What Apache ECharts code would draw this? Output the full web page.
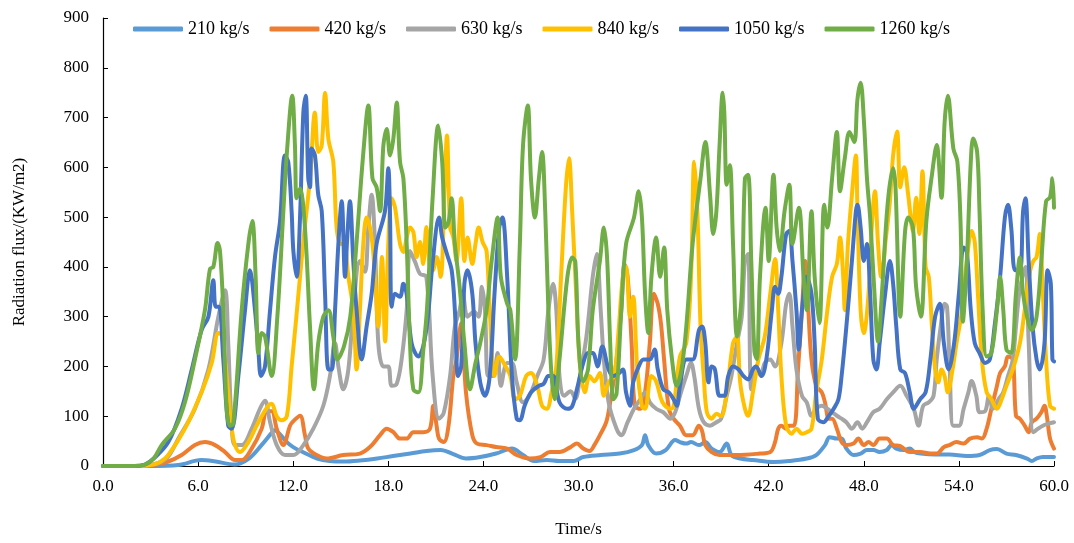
<!DOCTYPE html>
<html style="height: 100%;">
  <head>
    <meta charset="utf-8" />
  </head>
  <body style="height: 100%; margin: 0; background: #fff;">
    <div id="container" style="width: 1074px; height: 543px;"></div>
    <script src="https://cdn.jsdelivr.net/npm/echarts@6/dist/echarts.min.js"></script>
    <script type="text/javascript">
      // [time (s), radiation flux (KW/m2)]
      var names = ["210 kg/s", "420 kg/s", "630 kg/s", "840 kg/s", "1050 kg/s", "1260 kg/s"];
      var colors = ["#5B9BD5", "#ED7D31", "#A5A5A5", "#FFC000", "#4472C4", "#70AD47"];

      var s210 = [[0,0],[3,0],[4.75,2],[6.2,12],[7.1,9],[8.3,3],[9.2,15],[10,42],[10.6,65],[10.8,72],[11.1,66],[11.6,48],[12,38],[12.6,28],[13.5,15],[14.3,10],[15.2,9],[16.2,11],[17.3,15],[18.3,20],[19.4,25],[20.4,30],[21.3,32],[22.1,24],[22.9,15],[23.8,18],[24.8,25],[25.8,35],[26.5,22],[27.2,10],[28,12],[28.8,10],[29.7,10],[30.3,18],[31.4,22],[32.6,25],[33.5,32],[34,42],[34.2,62],[34.4,42],[34.9,25],[35.5,32],[36.1,52],[36.4,48],[36.8,45],[37.1,48],[37.6,42],[38,48],[38.4,35],[38.9,28],[39.35,45],[39.65,22],[40.2,15],[41,12],[42.3,8],[43.3,10],[44.4,15],[45,22],[45.55,42],[45.85,58],[46.3,55],[46.6,55],[46.9,35],[47.35,22],[47.8,25],[48.2,32],[48.6,32],[49,28],[49.45,32],[49.75,42],[50.05,35],[50.5,32],[50.9,35],[51.2,28],[51.6,25],[52.5,23],[53.4,23],[54.5,20],[55.3,22],[55.95,32],[56.4,34],[57,25],[57.6,22],[58.3,15],[58.6,10],[58.9,15],[59.3,18],[60,18]];

      var s420 = [[0,0],[2,0],[3,1],[4.12,9],[4.96,22],[5.8,42],[6.43,48],[7.07,42],[7.7,28],[8.33,12],[8.75,12],[9.38,35],[10.01,75],[10.33,110],[10.64,110],[10.96,75],[11.38,42],[11.8,81],[12.01,90],[12.43,101],[12.74,62],[12.95,35],[13.48,22],[14.11,15],[15.16,22],[16.21,25],[16.84,38],[17.48,62],[17.9,75],[18.32,68],[18.74,55],[19.16,55],[19.58,68],[20.21,68],[20.63,75],[20.84,121],[21.05,80],[21.2,55],[21.5,48],[21.8,81],[22.1,181],[22.3,214],[22.6,287],[22.9,148],[23.3,62],[23.6,45],[24.2,42],[24.8,38],[25.5,35],[26.1,22],[26.9,15],[27.6,18],[28.2,28],[28.8,28],[29.5,38],[29.9,45],[30.3,35],[30.7,30],[31,42],[31.35,62],[31.75,88],[32,128],[32.4,214],[32.7,313],[32.9,406],[33.1,380],[33.35,247],[33.55,121],[33.9,115],[34.2,148],[34.5,247],[34.75,346],[35,326],[35.2,287],[35.4,214],[35.7,115],[36,95],[36.4,81],[36.8,62],[37.2,62],[37.6,81],[37.8,70],[38,42],[38.4,28],[38.9,22],[40,22],[41.45,25],[42.1,28],[42.4,48],[42.6,75],[42.8,81],[43.1,75],[43.3,81],[43.6,81],[43.85,194],[44.1,313],[44.3,412],[44.5,313],[44.7,214],[45,161],[45.35,148],[45.55,128],[45.8,95],[46,95],[46.3,75],[46.6,48],[46.9,42],[47.35,45],[47.65,55],[48,42],[48.3,48],[48.6,42],[49,55],[49.45,55],[49.85,42],[50.3,40],[50.9,28],[51.55,28],[52.2,25],[52.6,25],[53.05,38],[53.4,42],[53.85,48],[54.3,45],[54.7,55],[55.15,58],[55.45,55],[55.75,75],[56.05,115],[56.4,161],[56.6,187],[56.9,200],[57.1,220],[57.4,214],[57.6,101],[57.85,95],[58.15,81],[58.4,68],[58.6,88],[58.9,95],[59.2,108],[59.4,121],[59.55,100],[59.75,55],[60,35]];

      var s630 = [[0,0],[2,0],[3,2],[4,15],[4.75,55],[5.8,115],[6.65,194],[7.28,300],[7.7,353],[7.9,247],[8.12,81],[8.33,42],[8.75,42],[9.38,75],[9.9,115],[10.22,131],[10.54,88],[10.96,42],[11.48,22],[12.01,22],[12.64,42],[13.27,75],[13.9,121],[14.32,181],[14.64,247],[14.85,200],[15.16,154],[15.48,194],[15.79,313],[16.21,412],[16.53,390],[16.74,479],[16.95,545],[17.16,446],[17.37,247],[17.69,200],[18,200],[18.21,161],[18.53,165],[18.84,214],[19.16,313],[19.37,432],[19.69,410],[20,386],[20.4,380],[20.8,181],[21.2,95],[21.5,107],[21.9,181],[22.2,280],[22.5,313],[22.7,346],[23,300],[23.4,310],[23.7,300],[23.9,360],[24.1,313],[24.3,181],[24.6,181],[24.9,227],[25.1,161],[25.5,207],[25.8,207],[26.1,168],[26.5,128],[26.9,141],[27.4,181],[27.8,214],[28.1,313],[28.4,366],[28.6,313],[28.8,181],[29.1,141],[29.5,150],[29.8,135],[30.1,181],[30.5,260],[30.9,380],[31.15,426],[31.4,313],[31.6,214],[31.9,128],[32.4,75],[32.7,62],[33.1,88],[33.5,115],[33.9,134],[34.2,148],[34.5,128],[34.9,115],[35.35,108],[35.8,95],[36.1,108],[36.4,141],[36.8,181],[37.1,207],[37.3,181],[37.6,115],[37.9,88],[38.3,81],[38.7,88],[39,95],[39.35,141],[39.65,181],[40,247],[40.3,300],[40.5,412],[40.7,426],[40.9,154],[41.2,200],[41.5,181],[41.75,207],[42.1,214],[42.4,200],[42.8,247],[43.1,326],[43.3,346],[43.5,280],[43.75,194],[44.1,141],[44.4,128],[44.7,101],[45,115],[45.35,121],[45.7,115],[46,108],[46.3,101],[46.6,95],[46.9,88],[47.25,75],[47.6,88],[47.9,75],[48.2,88],[48.6,108],[49,115],[49.45,134],[49.85,148],[50.3,161],[50.7,141],[51.15,115],[51.45,81],[51.75,121],[52.1,128],[52.4,141],[52.6,214],[52.85,280],[53.1,326],[53.25,320],[53.4,214],[53.65,81],[54,81],[54.3,115],[54.6,148],[54.8,171],[55.1,141],[55.3,108],[55.65,110],[55.9,141],[56.15,115],[56.5,134],[56.8,148],[57.1,181],[57.4,214],[57.6,280],[57.8,346],[58,380],[58.2,400],[58.4,250],[58.7,68],[59,75],[59.3,81],[59.65,85],[60,88]];

      var s840 = [[0,0],[2,0],[3,2],[3.6,8],[4.12,22],[5.17,75],[6.22,148],[6.86,207],[7.28,267],[7.49,262],[7.8,181],[8.12,75],[8.33,42],[8.64,28],[9.17,48],[9.8,88],[10.43,121],[10.64,125],[10.96,100],[11.27,92],[11.6,100],[11.9,200],[12.2,300],[12.43,380],[12.7,470],[13.06,578],[13.37,710],[13.58,631],[13.8,644],[14.01,750],[14.22,657],[14.53,611],[14.74,479],[15,446],[15.2,446],[15.48,380],[15.79,313],[16,194],[16.21,313],[16.42,446],[16.63,499],[16.95,459],[17.16,380],[17.37,280],[17.6,420],[17.8,250],[18,446],[18.21,538],[18.42,520],[18.74,446],[18.95,430],[19.16,459],[19.37,479],[19.58,470],[19.79,420],[20,450],[20.2,406],[20.4,480],[20.6,406],[20.8,393],[21.05,420],[21.3,380],[21.55,560],[21.7,664],[21.9,479],[22.1,460],[22.3,412],[22.6,538],[22.8,412],[23,459],[23.3,406],[23.5,446],[23.7,479],[23.95,450],[24.2,432],[24.4,313],[24.7,181],[25,220],[25.4,200],[25.7,181],[26,134],[26.3,141],[26.7,181],[27,187],[27.4,161],[27.7,121],[28,115],[28.3,148],[28.6,200],[28.9,380],[29.2,558],[29.4,618],[29.6,512],[29.9,313],[30.1,200],[30.4,148],[30.7,181],[31,170],[31.35,187],[31.6,141],[31.9,168],[32.25,181],[32.5,260],[32.8,380],[33,400],[33.25,300],[33.45,340],[33.7,200],[34,120],[34.2,115],[34.6,181],[34.9,170],[35.3,128],[35.8,115],[36,120],[36.4,220],[36.8,247],[37.1,380],[37.3,611],[37.5,512],[37.7,280],[37.9,181],[38.1,108],[38.4,95],[38.7,105],[39,100],[39.35,148],[39.75,247],[40,260],[40.2,168],[40.5,115],[40.7,101],[41,148],[41.35,214],[41.75,260],[42.1,346],[42.4,416],[42.6,313],[42.8,181],[43.1,81],[43.45,65],[43.75,75],[44.1,65],[44.4,68],[44.7,75],[45,148],[45.35,214],[45.7,313],[46,380],[46.3,406],[46.5,459],[46.7,380],[46.8,313],[47,446],[47.25,545],[47.5,624],[47.6,512],[47.8,313],[48,267],[48.3,346],[48.5,479],[48.7,552],[48.9,446],[49.1,380],[49.4,459],[49.65,532],[49.85,624],[50.1,672],[50.3,560],[50.55,600],[50.8,545],[51.1,472],[51.3,539],[51.5,466],[51.7,592],[51.9,400],[52.1,380],[52.3,280],[52.5,194],[52.7,168],[52.9,194],[53.1,180],[53.3,148],[53.6,194],[53.85,247],[54.2,313],[54.5,412],[54.8,472],[55,450],[55.2,346],[55.45,214],[55.75,148],[56.05,134],[56.4,115],[56.7,134],[57,161],[57.4,194],[57.85,247],[58.15,313],[58.5,393],[58.7,412],[58.9,420],[59.1,466],[59.3,346],[59.5,214],[59.75,121],[60,115]];

      var s1050 = [[0,0],[2,0],[2.65,3],[3.2,15],[4.12,48],[4.96,115],[5.6,194],[6.22,273],[6.65,300],[6.96,373],[7.11,320],[7.32,320],[7.59,214],[7.9,81],[8.12,75],[8.54,181],[8.96,313],[9.27,393],[9.59,313],[9.8,234],[9.97,181],[10.22,200],[10.54,313],[10.85,420],[11.17,492],[11.48,624],[11.69,610],[11.9,512],[12.01,432],[12.22,380],[12.43,499],[12.64,710],[12.79,744],[12.95,578],[13.06,560],[13.16,638],[13.37,624],[13.58,545],[13.8,512],[14.01,346],[14.22,194],[14.43,194],[14.64,313],[14.85,446],[15.06,532],[15.27,380],[15.41,459],[15.58,532],[15.79,412],[16,313],[16.32,214],[16.63,280],[16.95,346],[17.26,446],[17.79,512],[18,598],[18.11,500],[18.21,320],[18.42,346],[18.74,340],[18.95,366],[19.16,345],[19.47,247],[19.9,220],[20.2,240],[20.5,300],[20.8,410],[21.2,499],[21.4,459],[21.7,426],[22,393],[22.2,313],[22.4,181],[22.6,200],[22.8,366],[23,393],[23.3,346],[23.5,247],[23.8,168],[24.1,141],[24.4,181],[24.7,346],[25,479],[25.2,499],[25.5,380],[25.8,181],[26.1,95],[26.3,92],[26.6,121],[27,148],[27.5,161],[27.8,165],[28.1,181],[28.4,181],[28.8,128],[29.3,115],[29.6,120],[29.9,154],[30.3,207],[30.6,227],[30.9,227],[31.2,200],[31.5,240],[31.9,194],[32.2,181],[32.5,185],[32.8,194],[33,148],[33.25,121],[33.45,168],[33.8,200],[34.1,214],[34.5,214],[34.8,234],[35,194],[35.35,154],[35.7,148],[36,134],[36.2,121],[36.4,161],[36.8,214],[37.2,214],[37.6,273],[37.8,280],[38,247],[38.2,168],[38.4,200],[38.6,195],[38.9,141],[39.2,141],[39.45,181],[39.75,200],[40.1,194],[40.4,181],[40.7,174],[41,194],[41.2,200],[41.55,181],[41.85,214],[42.2,313],[42.4,360],[42.6,346],[42.8,380],[43.1,466],[43.3,472],[43.5,412],[43.75,313],[43.9,234],[44.1,313],[44.4,380],[44.7,346],[44.9,247],[45.1,95],[45.45,88],[45.8,101],[46.1,115],[46.4,134],[46.6,181],[46.9,280],[47.25,412],[47.5,512],[47.6,525],[47.8,479],[48,412],[48.2,446],[48.4,346],[48.6,214],[48.8,194],[49,247],[49.35,346],[49.65,412],[49.85,366],[50.05,280],[50.3,194],[50.6,187],[50.9,148],[51.15,115],[51.55,134],[51.9,148],[52.2,214],[52.5,300],[52.8,326],[53.05,247],[53.35,194],[53.7,247],[54,346],[54.3,439],[54.5,430],[54.75,313],[55,247],[55.3,227],[55.65,207],[55.95,214],[56.25,280],[56.6,380],[56.9,499],[57.1,525],[57.3,479],[57.55,393],[57.85,393],[58.05,512],[58.2,538],[58.4,412],[58.65,280],[58.9,214],[59.1,194],[59.4,247],[59.6,393],[59.8,366],[59.9,214],[60,210]];

      var s1260 = [[0,0],[2,0],[2.65,3],[3.2,15],[3.7,42],[4.54,75],[5.17,128],[5.8,214],[6.43,313],[6.75,396],[6.96,400],[7.23,448],[7.38,432],[7.59,313],[7.8,115],[8.01,81],[8.22,85],[8.75,313],[9.17,446],[9.42,492],[9.63,380],[9.8,227],[10.01,267],[10.22,260],[10.64,181],[11,300],[11.38,512],[11.59,624],[11.94,744],[12.11,644],[12.22,538],[12.43,558],[12.74,479],[13.06,280],[13.31,154],[13.58,247],[13.9,300],[14.22,313],[14.53,260],[14.78,214],[15.2,240],[15.6,300],[16,450],[16.4,620],[16.74,724],[17,578],[17.26,560],[17.48,512],[17.69,644],[17.9,677],[18.11,624],[18.32,658],[18.53,730],[18.74,611],[18.95,578],[19.16,446],[19.37,247],[19.58,154],[19.9,148],[20.2,230],[20.45,320],[20.8,540],[21.15,684],[21.4,611],[21.6,479],[21.8,490],[22,538],[22.2,446],[22.5,360],[22.8,247],[23.15,154],[23.5,207],[23.8,247],[24.2,313],[24.5,406],[24.9,499],[25.1,380],[25.5,326],[25.7,313],[26,214],[26.3,446],[26.5,644],[26.8,724],[27,578],[27.25,499],[27.5,578],[27.7,631],[27.9,512],[28.1,313],[28.3,181],[28.5,134],[28.8,214],[29.3,380],[29.6,419],[29.8,410],[30,247],[30.3,170],[30.6,194],[30.9,313],[31.35,412],[31.6,479],[31.8,420],[32,247],[32.2,134],[32.4,145],[32.7,313],[33,446],[33.5,499],[33.8,552],[34,500],[34.2,346],[34.4,267],[34.6,380],[34.9,459],[35.15,380],[35.4,439],[35.6,313],[35.9,214],[36.2,161],[36.5,194],[36.8,280],[37.2,446],[37.7,578],[38,651],[38.3,545],[38.5,466],[38.7,512],[38.9,644],[39.1,750],[39.2,710],[39.35,565],[39.55,604],[39.75,446],[40,260],[40.3,346],[40.5,578],[40.7,585],[40.9,412],[41.1,230],[41.25,215],[41.45,380],[41.8,519],[42,412],[42.3,585],[42.5,479],[42.7,432],[43,512],[43.3,565],[43.5,446],[43.9,519],[44.2,380],[44.4,313],[44.7,512],[44.9,380],[45.2,287],[45.5,525],[45.7,479],[46,578],[46.3,671],[46.5,552],[46.8,618],[47.1,671],[47.4,651],[47.6,737],[47.8,770],[48,697],[48.2,578],[48.4,499],[48.65,360],[48.9,250],[49.15,350],[49.5,525],[49.85,598],[50,560],[50.3,300],[50.6,470],[50.8,499],[51.1,479],[51.3,360],[51.6,300],[51.95,493],[52.3,585],[52.6,645],[52.9,539],[53.1,691],[53.3,744],[53.65,638],[53.9,612],[54.1,493],[54.25,290],[54.5,412],[54.75,611],[54.9,658],[55.15,631],[55.3,512],[55.5,313],[55.75,220],[56.05,227],[56.4,313],[56.6,380],[56.8,313],[57,234],[57.3,227],[57.6,346],[57.85,419],[58.05,346],[58.3,300],[58.6,273],[58.9,300],[59.2,412],[59.5,532],[59.75,540],[59.9,578],[60,519]];

      var seriesData = [s210, s420, s630, s840, s1050, s1260];
      var font = "'Liberation Serif', 'Times New Roman', serif";

      var dom = document.getElementById("container");
      var myChart = echarts.init(dom, null, { renderer: "canvas" });

      var series = seriesData.map(function (d, i) {
        return {
          name: names[i],
          type: "line",
          data: d,
          smooth: 0.35,
          showSymbol: false,
          symbol: "none",
          lineStyle: { width: 4, color: colors[i], cap: "round", join: "round" },
          itemStyle: { color: colors[i] },
        };
      });

      var option = {
        animation: false,
        color: colors,
        textStyle: { fontFamily: font },
        legend: {
          left: 128,
          top: 15,
          icon: "roundRect",
          itemWidth: 50,
          itemHeight: 5,
          itemGap: 20,
          textStyle: { fontFamily: font, fontSize: 18, color: "#000" },
          data: names,
        },
        grid: { left: 103, right: 20, top: 18, bottom: 72 },
        xAxis: {
          type: "value",
          min: 0,
          max: 60,
          interval: 6,
          name: "Time/s",
          nameLocation: "middle",
          nameGap: 55,
          nameTextStyle: { fontFamily: font, fontSize: 17, color: "#000" },
          axisLine: { lineStyle: { color: "#000", width: 1.2 } },
          axisTick: { inside: true, length: 5, lineStyle: { color: "#000" } },
          axisLabel: {
            fontFamily: font,
            fontSize: 17,
            color: "#000",
            margin: 12,
            formatter: function (v) { return v.toFixed(1); },
          },
          splitLine: { show: false },
        },
        yAxis: {
          type: "value",
          min: 0,
          max: 900,
          interval: 100,
          name: "Radiation flux/(KW/m2)",
          nameLocation: "middle",
          nameGap: 75,
          nameTextStyle: { fontFamily: font, fontSize: 17, color: "#000" },
          axisLine: { show: true, lineStyle: { color: "#000", width: 1.2 } },
          axisTick: { show: true, inside: true, length: 5, lineStyle: { color: "#000" } },
          axisLabel: { fontFamily: font, fontSize: 17, color: "#000", margin: 14 },
          splitLine: { show: false },
        },
        series: series,
      };

      myChart.setOption(option);
    </script>
  </body>
</html>
